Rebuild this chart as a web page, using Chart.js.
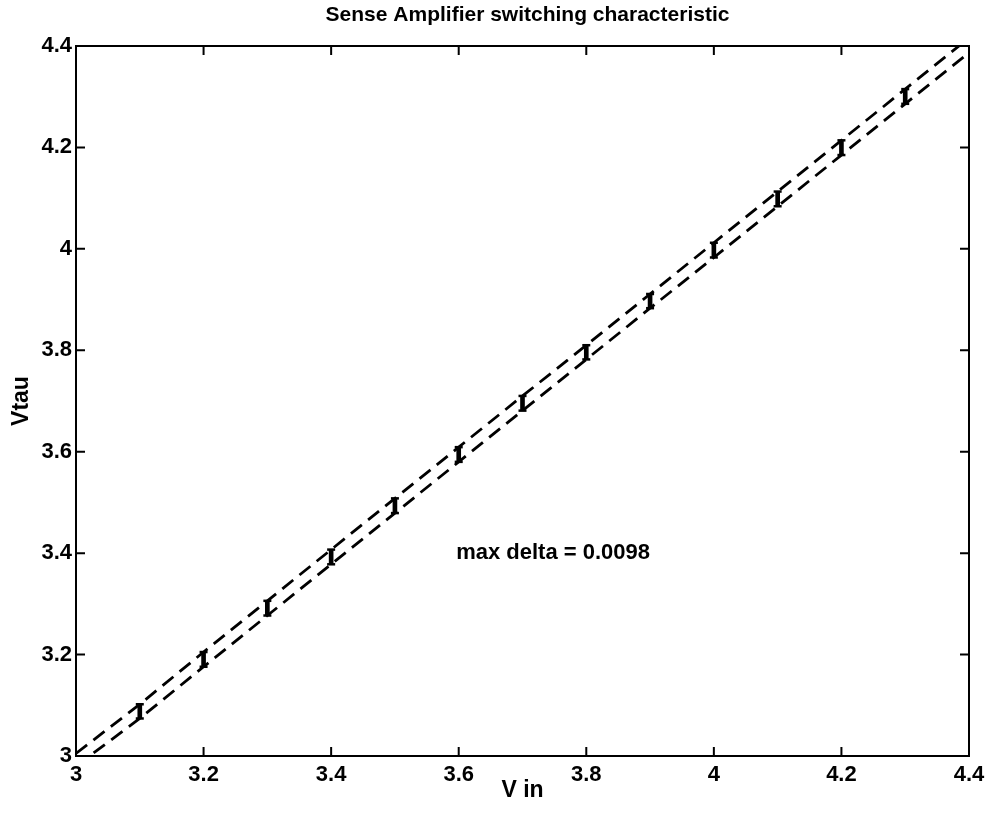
<!DOCTYPE html>
<html>
<head>
<meta charset="utf-8">
<script src="https://cdn.jsdelivr.net/npm/chart.js@4"></script>
<style>
  body { margin: 0; background: #fff; }
  #wrap { width: 987px; height: 814px; }
</style>
</head>
<body>
<div id="wrap"><canvas id="chart" width="987" height="814"></canvas></div>
<script>
const vin = [3.0, 3.1, 3.2, 3.3, 3.4, 3.5, 3.6, 3.7, 3.8, 3.9, 4.0, 4.1, 4.2, 4.3, 4.4];
const vtauHigh = [3.005, 3.102, 3.205, 3.306, 3.407, 3.508, 3.609, 3.71, 3.81, 3.911, 4.012, 4.113, 4.214, 4.315, 4.416];
const vtauLow = [2.98, 3.074, 3.176, 3.277, 3.378, 3.479, 3.58, 3.681, 3.782, 3.883, 3.983, 4.084, 4.185, 4.286, 4.387];
const markerX = [3.1, 3.2, 3.3, 3.4, 3.5, 3.6, 3.7, 3.8, 3.9, 4.0, 4.1, 4.2, 4.3];
const tickValues = [3, 3.2, 3.4, 3.6, 3.8, 4, 4.2, 4.4];
const titleText = "Sense Amplifier switching characteristic";
const note = { text: "max delta = 0.0098", x: 3.596, y: 3.4 };

const FONT = "'Liberation Sans', Arial, Helvetica, sans-serif";

// error markers join the two curves at each marked Vin
const markerIdx = markerX.map((x) => vin.findIndex((v) => Math.abs(v - x) < 1e-9));
const markerBars = markerIdx.map((i) => ({ x: vin[i], y: [vtauLow[i], vtauHigh[i]] }));

const boxTicks = {
  id: "boxTicks",
  afterDraw(chart) {
    const { ctx, chartArea: a, scales } = chart;
    const len = 9;
    ctx.save();
    ctx.strokeStyle = "#000";
    ctx.lineWidth = 2;
    ctx.strokeRect(a.left, a.top, a.right - a.left, a.bottom - a.top);
    ctx.beginPath();
    tickValues.forEach((v) => {
      const px = scales.x.getPixelForValue(v);
      ctx.moveTo(px, a.bottom); ctx.lineTo(px, a.bottom - len);
      ctx.moveTo(px, a.top); ctx.lineTo(px, a.top + len);
      const py = scales.y.getPixelForValue(v);
      ctx.moveTo(a.left, py); ctx.lineTo(a.left + len, py);
      ctx.moveTo(a.right, py); ctx.lineTo(a.right - len, py);
    });
    ctx.stroke();

    ctx.fillStyle = "#000";
    ctx.textBaseline = "middle";
    ctx.font = "bold 21px " + FONT;
    ctx.textAlign = "center";
    ctx.fillText(titleText, (a.left + a.right) / 2 + 5, 15);
    ctx.font = "bold 22px " + FONT;
    ctx.textAlign = "left";
    ctx.fillText(note.text, scales.x.getPixelForValue(note.x), scales.y.getPixelForValue(note.y));
    ctx.restore();
  },
};

new Chart(document.getElementById("chart"), {
  type: "line",
  data: {
    labels: vin,
    datasets: [
      {
        data: vin.map((x, i) => ({ x, y: vtauHigh[i] })),
        borderColor: "#000",
        borderWidth: 2.8,
        borderDash: [14, 8],
        pointRadius: 0,
        tension: 0,
      },
      {
        data: vin.map((x, i) => ({ x, y: vtauLow[i] })),
        borderColor: "#000",
        borderWidth: 2.8,
        borderDash: [14, 8],
        pointRadius: 0,
        tension: 0,
      },
      {
        type: "bar",
        data: markerBars,
        backgroundColor: "#000",
        barThickness: 4,
      },
      {
        type: "scatter",
        data: markerIdx.map((i) => ({ x: vin[i], y: vtauHigh[i] })),
        pointStyle: "line",
        pointRadius: 4,
        borderColor: "#000",
        borderWidth: 2.5,
        showLine: false,
      },
      {
        type: "scatter",
        data: markerIdx.map((i) => ({ x: vin[i], y: vtauLow[i] })),
        pointStyle: "line",
        pointRadius: 4,
        borderColor: "#000",
        borderWidth: 2.5,
        showLine: false,
      },
    ],
  },
  options: {
    responsive: false,
    animation: false,
    layout: { padding: { left: 0, right: 18, top: 46, bottom: 0 } },
    plugins: {
      legend: { display: false },
      tooltip: { enabled: false },
      title: { display: false },
    },
    scales: {
      x: {
        type: "linear",
        min: 3,
        max: 4.4,
        offset: false,
        grid: { display: false, drawTicks: false },
        border: { display: false },
        afterBuildTicks: (s) => { s.ticks = tickValues.map((v) => ({ value: v })); },
        afterFit: (s) => { s.height = 58; s.paddingLeft = 0; s.paddingRight = 0; },
        ticks: {
          color: "#000",
          padding: 6,
          maxRotation: 0,
          font: { family: FONT, size: 22, weight: "bold" },
          callback: (v) => String(Math.round(v * 10) / 10),
        },
        title: {
          display: true,
          text: "V in",
          color: "#000",
          font: { family: FONT, size: 23, weight: "bold" },
          padding: { top: 0, bottom: 10 },
        },
      },
      y: {
        type: "linear",
        min: 3,
        max: 4.4,
        grid: { display: false, drawTicks: false },
        border: { display: false },
        afterBuildTicks: (s) => { s.ticks = tickValues.map((v) => ({ value: v })); },
        afterFit: (s) => { s.width = 76; s.paddingTop = 0; s.paddingBottom = 0; },
        ticks: {
          color: "#000",
          padding: 4,
          font: { family: FONT, size: 22, weight: "bold" },
          callback: (v) => String(Math.round(v * 10) / 10),
        },
        title: {
          display: true,
          text: "Vtau",
          color: "#000",
          font: { family: FONT, size: 23, weight: "bold" },
          padding: { top: 8, bottom: 0 },
        },
      },
    },
  },
  plugins: [boxTicks],
});
</script>
</body>
</html>
